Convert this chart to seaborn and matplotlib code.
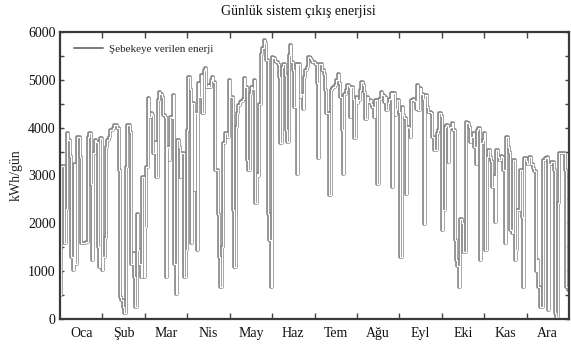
import numpy as np
import pandas as pd
import matplotlib
matplotlib.use("Agg")
import matplotlib.pyplot as plt
from matplotlib.lines import Line2D
import seaborn as sns

# ---- data (kWh/day) ----
jan = [500, 3200, 3200, 1580, 2300, 3880, 3740, 3400, 1300, 1020, 3250, 1160, 3810, 3810, 3390, 1580,
       1580, 1580, 1580, 1600, 3810, 3880, 2830, 1230, 3460, 3740, 3700, 1500, 1090, 3780, 1020]
feb = [1300, 1700, 3600, 3750, 3800, 3950, 3950, 4000, 4050, 4050, 4000, 3110, 460, 400, 250, 120,
       3180, 4050, 4050, 3900, 1160, 1370, 880, 255, 2200, 1450, 1160, 880, 2970]
mar = [880, 1930, 3180, 4610, 4230, 4300, 4260, 3460, 3700, 2970, 4580, 4750, 4700, 4650, 4260, 4230,
       880, 3600, 3320, 4230, 4200, 4680, 1160, 530, 3740, 3600, 2970, 3460, 3460, 880, 1440, 3950]
apr = [5060, 4800, 1580, 4510, 2700, 4300, 1440, 4925, 4650, 5100, 4300, 5200, 5240, 4855, 4900, 4855,
       5000, 5060, 4960, 3110, 3110, 2200, 1300, 670, 1510, 3670, 3880, 3880]
may = [3810, 5000, 4650, 4650, 2280, 1090, 4020, 4300, 4470, 4540, 4560, 4600, 5030, 4855, 3320, 3110,
       4700, 4855, 4800, 5000, 2420, 3040, 3000, 4500, 5550, 5660, 5830, 5760, 5410, 2200, 1650, 670, 5480]
jun = [5450, 5400, 5380, 5340, 5060, 3670, 5270, 5340, 5100, 3950, 3700, 5520, 5730, 5380, 5200, 4440,
       5340, 3040, 5340, 4650, 4700, 4400, 5060, 5200, 5270, 5480, 5450, 5410, 5380]
jul_aug = [5380, 5340, 4925, 3360, 5340, 5340, 5200, 5130, 4785, 4300, 4300, 2590, 4785, 4820, 4855, 4900,
           5000, 5130, 4925, 4650, 3950, 3040, 4700, 4785, 4890, 4855, 4230, 4855, 4600, 3780, 4650, 4510,
           4580, 4785, 4960, 4900, 4750, 4190, 4650, 4540, 4580, 4500, 4440, 4230, 4580, 2830, 2830, 4600,
           4750, 4680, 4540, 4650, 4370, 4510, 4600, 4720, 2760, 4720, 4260, 4400, 4580, 4330]
sep_oct = [1300, 4440, 4260, 4200, 2620, 4020, 4000, 3810, 4580, 4600, 4550, 4400, 4890, 4370, 4820, 4700,
           4600, 1995, 4680, 4440, 4330, 4330, 4300, 3810, 3530, 3530, 3880, 3950, 4300, 4250, 1860, 2280,
           4020, 4050, 3290, 4000, 4020, 4090, 3950, 1650, 1230, 1100, 670, 2100, 2000, 1400, 1400, 4120,
           4100, 4020, 3700, 3810, 3880, 3600, 3250, 3950, 3990, 1230, 3670]
nov_dec = [3740, 3880, 1440, 3390, 3530, 3390, 3300, 2760, 3000, 2030, 3530, 3390, 3320, 3400, 3390, 3110,
           1580, 3810, 3600, 3500, 1860, 1800, 3320, 1230, 1440, 2280, 2280, 3110, 2140, 670, 3360, 3300,
           3250, 3390, 3390, 3250, 3150, 3100, 1000, 1230, 670, 255, 255, 3320, 3320, 3360, 3390, 185,
           3250, 3290, 3290, 3110, 120, 50, 2420, 3460, 3460, 3460, 3460, 3110, 670, 600]
months = ["Oca", "Şub", "Mar", "Nis", "May", "Haz", "Tem", "Ağu", "Eyl", "Eki", "Kas", "Ara"]
y_ticks = [0, 1000, 2000, 3000, 4000, 5000, 6000]

energy = jan + feb + mar + apr + may + jun + jul_aug + sep_oct + nov_dec
df = pd.DataFrame({"day": np.arange(len(energy)), "energy": energy})

W, H = 571, 347
fig = plt.figure(figsize=(W / 100, H / 100), dpi=100)
sns.set_style("white")
plt.rcParams["font.family"] = ["Liberation Serif", "DejaVu Serif"]

ax = fig.add_axes([60 / W, 1 - 319 / H, (569 - 60) / W, (319 - 32) / H])

sns.lineplot(data=df, x="day", y="energy", ax=ax, drawstyle="steps-post",
             color="#858585", linewidth=2.6, legend=False)
sns.lineplot(data=df, x="day", y="energy", ax=ax, drawstyle="steps-post",
             color="white", linewidth=0.9, legend=False)

ndays = 365
ax.set_xlim(0, ndays)
ax.set_ylim(0, 6000)
mlen = ndays / 12
ax.set_xticks([mlen * k for k in range(1, 12)])
ax.set_xticklabels([])
ax.set_xticks([mlen * (k + 0.5) for k in range(12)], minor=True)
ax.set_xticklabels(months, minor=True, fontsize=10)
ax.tick_params(axis="x", which="major", direction="in", length=4, width=1, color="#444444",
               top=True, bottom=True)
ax.tick_params(axis="x", which="minor", length=0, pad=6, labelcolor="#111111")

ax.set_yticks(y_ticks)
ax.set_yticklabels([str(v) for v in y_ticks], fontsize=10)
ax.set_yticks(np.arange(500, 6000, 1000), minor=True)
ax.tick_params(axis="y", which="both", direction="in", length=3, width=1, color="#444444",
               left=True, right=True, labelcolor="#111111", pad=3)

for s in ax.spines.values():
    s.set_color("#3a3a3a")
    s.set_linewidth(1.6)

ax.set_xlabel("")
ax.set_ylabel("kWh/gün", fontsize=10, color="#222222", labelpad=4)

fig.text(298 / W, 1 - 12 / H, "Günlük sistem çıkış enerjisi", ha="center", va="center",
         fontsize=10, color="#111111")

handle = Line2D([], [], color="#6f6f6f", linewidth=1.3)
ax.legend([handle], ["Şebekeye verilen enerji"], loc="upper left", frameon=False,
          fontsize=8, handlelength=2.6, handletextpad=0.6,
          bbox_to_anchor=(0.012, 0.985), borderaxespad=0.3)

fig.savefig("out.png", dpi=100)
